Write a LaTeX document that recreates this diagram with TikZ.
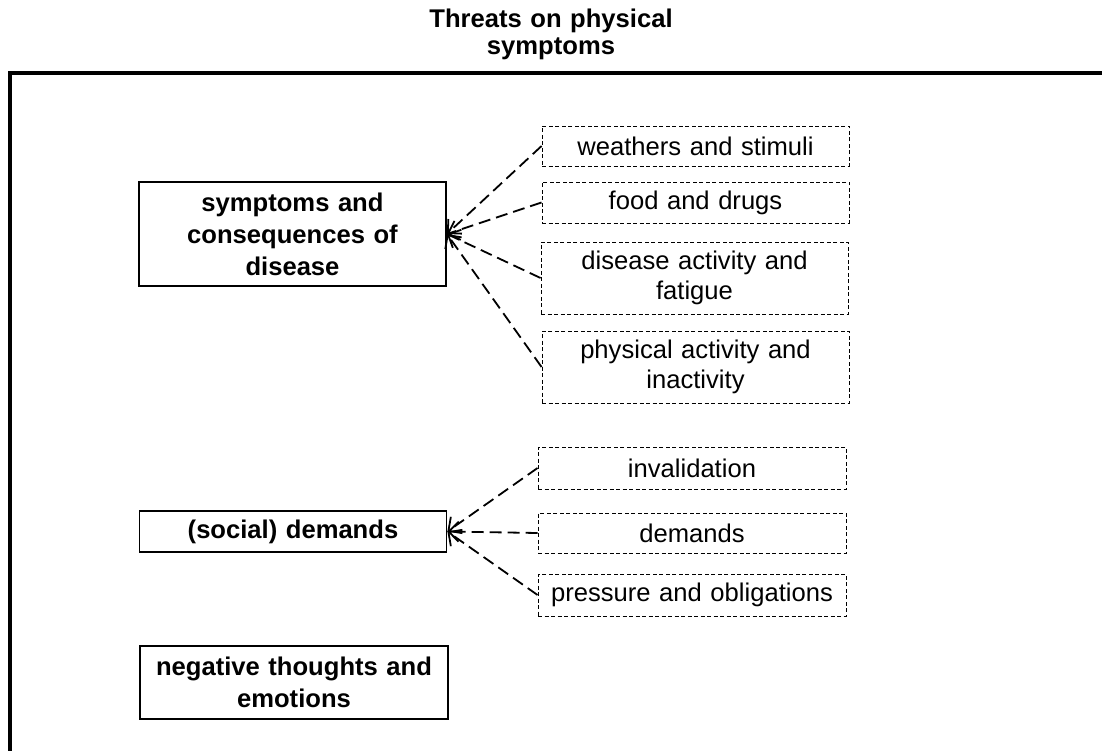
\documentclass[tikz,border=0pt]{standalone}
\usepackage{fontspec}
\setmainfont{Liberation Sans}
\usetikzlibrary{arrows.meta}
\tikzset{
  base/.style={inner sep=0pt, align=center, text width=#1, font=\fontsize{25.6}{30}\selectfont},
  base/.default={290pt},
  mainbox/.style={base, draw=black, line width=1.8pt, font=\fontsize{25.6}{32}\selectfont\bfseries},
  subbox/.style={base, draw=black, line width=0.9pt, dash pattern=on 4pt off 2.5pt},
  link/.style={draw=black, line width=1.8pt, dash pattern=on 12pt off 6pt, -{Straight Barb[length=10pt,width=20pt,line width=1.8pt]}}
}
\begin{document}
\begin{tikzpicture}[x=1pt,y=-1pt]
\useasboundingbox (0,0) rectangle (1102,751);
\fill[white] (0,0) rectangle (1102,751);
% frame
\coordinate (fbl) at (10,760);
\coordinate (ftl) at (10,73);
\coordinate (ftr) at (1110,73);
\draw[line width=3.4pt, line join=miter] (fbl) -- (ftl) -- (ftr);
% title
\node[base=400pt, font=\fontsize{25.6}{27}\selectfont\bfseries] (title) at (551,34) {Threats on physical\\symptoms};
% main boxes
\node[mainbox, minimum width=307pt, minimum height=104pt] (b1) at (292.5,234) {symptoms and\\consequences of\\disease};
\node[mainbox, minimum width=307pt, minimum height=41pt] (b2) at (293,531.5) {(social) demands};
\node[mainbox, minimum width=308pt, minimum height=73pt] (b3) at (294,682.5) {negative thoughts and\\emotions};
% sub boxes
\node[subbox, minimum width=307pt, minimum height=40pt] (d1) at (695.5,146) {weathers and stimuli};
\node[subbox, minimum width=307pt, minimum height=41pt] (d2) at (695.5,202.5) {food and drugs};
\node[subbox, minimum width=307pt, minimum height=72pt] (d3) at (694.5,278) {disease activity and\\fatigue};
\node[subbox, minimum width=307pt, minimum height=72pt] (d4) at (695.5,367) {physical activity and\\inactivity};
\node[subbox, minimum width=308pt, minimum height=42pt] (d5) at (692,468) {invalidation};
\node[subbox, minimum width=308pt, minimum height=40pt] (d6) at (692,533) {demands};
\node[subbox, minimum width=308pt, minimum height=42pt] (d7) at (692,595) {pressure and obligations};
% connectors
\foreach \s in {d1,d2,d3,d4} \draw[link] (\s.west) -- (b1.east);
\foreach \s in {d5,d6,d7} \draw[link] (\s.west) -- (b2.east);
\end{tikzpicture}
\end{document}
